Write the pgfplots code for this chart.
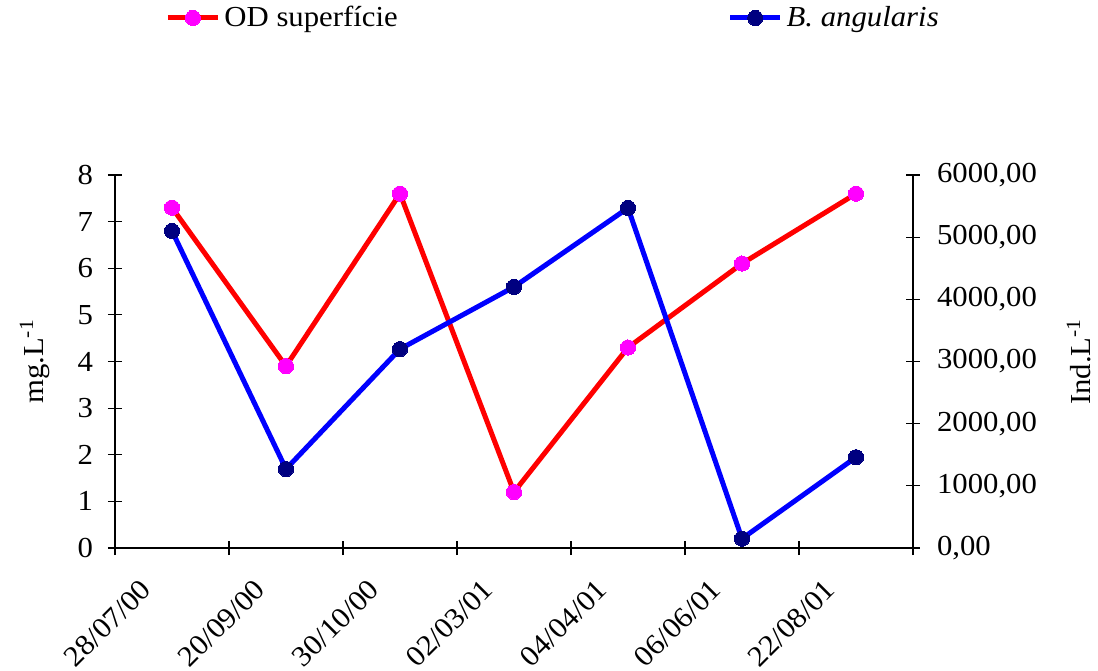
\documentclass[border=0pt]{standalone}
\usepackage{fontspec}
\setmainfont[FakeStretch=1.06]{Liberation Serif}
\usepackage{pgfplots}
\pgfplotsset{compat=1.18}
\definecolor{odred}{HTML}{FF0000}
\definecolor{odmag}{HTML}{FF00FF}
\definecolor{bblue}{HTML}{0000FF}
\definecolor{bnavy}{HTML}{000080}
\begin{document}
\begin{tikzpicture}
\useasboundingbox (-57.5pt,-61pt) rectangle (491.5pt,274pt);
\pgfplotsset{
  every axis/.append style={
    scale only axis, width=399pt, height=186.5pt,
    xmin=-0.5, xmax=6.5,
    axis line style={black, line width=0.6pt},
    tick style={black, line width=0.6pt},
    tick align=center, major tick length=7pt,
    font=\fontsize{14.5}{17}\selectfont,
    /pgf/number format/assume math mode=true,
    legend image code/.code={\draw[mark repeat=2,mark phase=2] plot coordinates {(0pt,0pt) (12.5pt,0pt) (25pt,0pt)};},
  }
}
\begin{axis}[
  axis x line*=bottom, axis y line*=left,
  ymin=0, ymax=8, ytick={0,1,...,8},
  xtick={-0.5,0.5,...,6.5},
  xticklabels={28/07/00,20/09/00,30/10/00,02/03/01,04/04/01,06/06/01,22/08/01,{}},
  xticklabel style={rotate=45, anchor=east, xshift=4pt, yshift=-21.5pt},
  yticklabel style={xshift=-4pt},
  ylabel={mg.L\textsuperscript{-1}},
  ylabel style={yshift=7pt},
  legend columns=2,
  legend style={draw=none, fill=none, inner sep=0pt, at={(0.0627,1.421)}, anchor=west,
    font=\fontsize{14.5}{17}\selectfont,
    /tikz/every even column/.append style={column sep=163pt}},
]
\addplot[odred, line width=2.5pt, mark=*, mark size=3.8pt, mark options={fill=odmag, draw=odmag, line width=0pt}]
  coordinates {(0,7.3) (1,3.9) (2,7.6) (3,1.2) (4,4.3) (5,6.1) (6,7.6)};
\addlegendentry{OD superfície}
\addlegendimage{bblue, line width=2.5pt, mark=*, mark size=3.8pt, mark options={fill=bnavy, draw=bnavy, line width=0pt}}
\addlegendentry{\textit{B. angularis}}
\end{axis}
\begin{axis}[
  axis x line=none, axis y line*=right,
  ymin=0, ymax=6000, ytick={0,1000,...,6000},
  yticklabel style={xshift=5pt, /pgf/number format/.cd, fixed, fixed zerofill, precision=2, use comma, 1000 sep={}},
  ylabel={Ind.L\textsuperscript{-1}},
  ylabel style={yshift=-8pt},
]
\addplot[bblue, line width=2.5pt, mark=*, mark size=3.8pt, mark options={fill=bnavy, draw=bnavy, line width=0pt}]
  coordinates {(0,5100) (1,1270) (2,3200) (3,4200) (4,5470) (5,150) (6,1460)};
\end{axis}
\end{tikzpicture}
\end{document}
